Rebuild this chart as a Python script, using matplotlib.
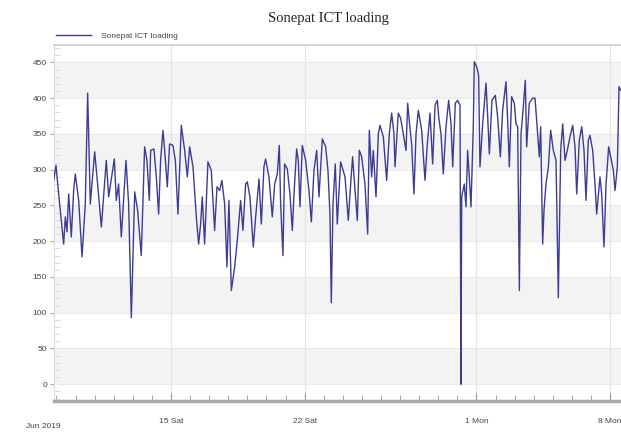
import matplotlib
matplotlib.use("Agg")
import matplotlib.pyplot as plt
import matplotlib.dates as mdates
import pandas as pd

# hours after 2019-06-09 00:00 and loading values
hours = [-3.6, -0.6, 2.7, 9.0, 11.1, 13.2, 15.3, 18.6, 21.6, 23.7, 27.9, 32.1, 36.2, 39.2,
         42.5, 48.0, 50.9, 56.4, 62.6, 65.6, 72.7, 75.2, 78.1, 81.5, 87.4, 90.7, 94.1, 98.3,
         102.0, 106.6, 110.8, 113.8, 116.7,
         118.4, 122.5, 125.5, 128.4, 130.9, 133.9, 136.0, 139.3, 142.2, 146.4, 149.4, 152.7,
         156.9, 161.1, 164.5, 167.4, 171.6, 175.8, 178.7, 181.2, 183.3, 186.2, 190.4, 194.6,
         198.8, 201.8, 205.1, 208.0, 211.4, 214.3, 216.8, 219.8, 224.0, 227.3, 231.5, 234.4,
         237.8,
         239.9, 243.2, 247.4, 250.4, 254.6, 257.5, 260.8, 262.9, 267.1, 271.3, 274.3, 277.6,
         280.1, 281.8, 284.7, 286.8, 290.2, 293.5, 296.5, 298.6, 301.9, 304.0, 306.1, 309.0,
         313.2, 317.4, 320.4, 323.7, 327.1, 330.0, 334.2, 338.4, 341.3, 343.8, 345.5, 347.6,
         350.5, 353.0, 357.2,
         362.7, 366.9, 369.8, 372.3, 375.3, 378.2, 380.7, 383.6, 387.8, 391.2, 393.3, 396.2,
         398.3, 401.7, 404.6, 406.7, 410.9, 415.1, 418.4, 421.4, 424.3, 425.6, 429.7, 432.7,
         436.0, 439.4, 441.5, 444.4, 446.5, 449.4, 452.0, 454.9, 459.1, 463.3, 466.2, 469.6,
         472.9, 475.9, 478.8,
         480.5, 483.4, 486.3, 489.7, 493.0, 496.0, 498.1, 501.4, 504.3, 507.3, 508.5, 509.4,
         512.7, 514.8, 516.9, 519.0, 521.1, 524.0, 525.3, 528.2, 530.7, 532.4, 535.8, 540.0,
         542.1, 544.2, 547.5, 551.7, 554.6, 558.0, 560.9, 565.1, 567.2, 569.3, 572.2, 575.6,
         577.7, 579.8, 581.9, 584.0, 586.9, 589.4, 591.1, 594.4, 598.6,
         601.6, 604.5, 607.0, 608.7, 611.2, 612.9, 615.4, 618.4, 621.3, 624.6, 628.0, 630.9,
         633.9, 636.4, 639.3, 642.2, 645.6, 649.0, 651.9, 654.0, 657.3, 660.3, 663.2, 665.7,
         668.6, 670.7, 674.1, 677.0, 679.1, 683.3, 685.4, 688.3, 690.9, 694.2, 696.7, 700.1,
         702.2, 705.1, 707.2, 709.3]
loading = [285, 306, 266, 196, 234, 213, 266, 206, 271, 294, 257, 178, 252, 407,
           252, 325, 290, 220, 313, 262, 315, 257, 280, 206, 313, 252, 93, 269,
           243, 180, 332, 313, 257,
           327, 329, 290, 238, 313, 355, 327, 276, 336, 334, 313, 238,
           362, 327, 290, 332, 304, 234, 196, 224, 262, 196, 311, 299,
           215, 276, 271, 285, 252, 164, 257, 131, 164, 201, 257, 215,
           280,
           283, 262, 192, 234, 287, 224, 304, 315, 290, 234, 280, 294,
           334, 252, 180, 308, 301, 266, 215, 266, 329, 313, 248, 334,
           313, 271, 227, 299, 327, 262, 343, 332, 299, 238, 114, 252,
           308, 224, 311,
           290, 229, 280, 318, 271, 229, 327, 318, 280, 210, 355, 290,
           327, 262, 350, 362, 346, 285, 350, 379, 350, 304, 379, 372,
           350, 327, 393, 358, 336, 266, 350, 383, 355, 285, 336, 379,
           308, 390, 397,
           374, 350, 294, 360, 397, 364, 304, 393, 397, 390, 0, 262,
           280, 248, 327, 290, 248, 360, 451, 444, 432, 304, 364, 421,
           374, 322, 397, 404, 374, 318, 383, 423, 369, 304, 402, 393,
           364, 360, 131, 350, 388, 425, 332, 393, 400,
           400, 355, 318, 360, 196, 243, 280, 304, 355, 327, 313, 121,
           327, 364, 313, 327, 346, 362, 332, 266, 341, 360, 327, 257,
           341, 348, 327, 280, 238, 290, 266, 192, 280, 332, 318, 299,
           271, 304, 416, 411]

start = pd.Timestamp("2019-06-09")
times = start + pd.to_timedelta(hours, unit="h")

plt.rcParams['font.family'] = ['Liberation Sans', 'DejaVu Sans']

fig = plt.figure(figsize=(6.21, 4.37), dpi=100)
ax = fig.add_axes([0.087, 0.0824, 0.913, 0.8146])

# alternating horizontal bands
for lo in range(0, 450, 100):
    ax.axhspan(lo, lo + 50, color='#f3f3f3', zorder=0, lw=0)
for v in range(0, 500, 50):
    ax.axhline(v, color='#e6e6e6', lw=0.6, zorder=0.5)

ax.plot(times, loading, color='#3c3c94', lw=1.0, zorder=3, label='Sonepat ICT loading')

ax.set_ylim(-23.4, 474.3)
ax.set_xlim(start - pd.Timedelta(hours=3.1), start + pd.Timedelta(hours=709.7))

ax.set_yticks(range(0, 451, 50))
ax.set_yticks(range(-20, 471, 10), minor=True)
ax.tick_params(axis='y', which='major', direction='out', length=3, color='#aaaaaa',
               labelsize=6, labelcolor='#444444', pad=2)
ax.tick_params(axis='y', which='minor', direction='in', length=4, color='#d4d4d4')

ax.xaxis.set_major_locator(mdates.DayLocator(bymonthday=[1, 8, 15, 22]))
ax.xaxis.set_major_formatter(plt.FuncFormatter(
    lambda x, pos: f"{mdates.num2date(x).day} {mdates.num2date(x).strftime('%a')}"))
ax.xaxis.set_minor_locator(mdates.DayLocator())
ax.tick_params(axis='x', which='major', direction='in', length=6, color='#999999',
               labelsize=6, labelcolor='#444444', pad=12)
ax.tick_params(axis='x', which='minor', direction='in', length=4, color='#999999')
ax.grid(axis='x', which='major', color='#e4e4e4', lw=0.8, zorder=0.5)

ax.spines['right'].set_visible(False)
ax.spines['top'].set_color('#cccccc')
ax.spines['top'].set_linewidth(1.2)
ax.spines['left'].set_color('#dddddd')
ax.spines['bottom'].set_color('#a8a8a8')
ax.spines['bottom'].set_linewidth(2.5)

leg = ax.legend(loc='lower left', bbox_to_anchor=(-0.005, 1.0), frameon=False,
                fontsize=6, handlelength=4.2, handletextpad=1.2, borderaxespad=0.2)
for t in leg.get_texts():
    t.set_color('#444444')

fig.text(0.529, 0.958, "Sonepat ICT loading", ha='center', va='center',
         family='Liberation Serif', fontsize=10.5, color='#222222')
fig.text(0.042, 0.023, "Jun 2019", ha='left', va='center', fontsize=6, color='#444444')

fig.savefig("out.png", dpi=100)
